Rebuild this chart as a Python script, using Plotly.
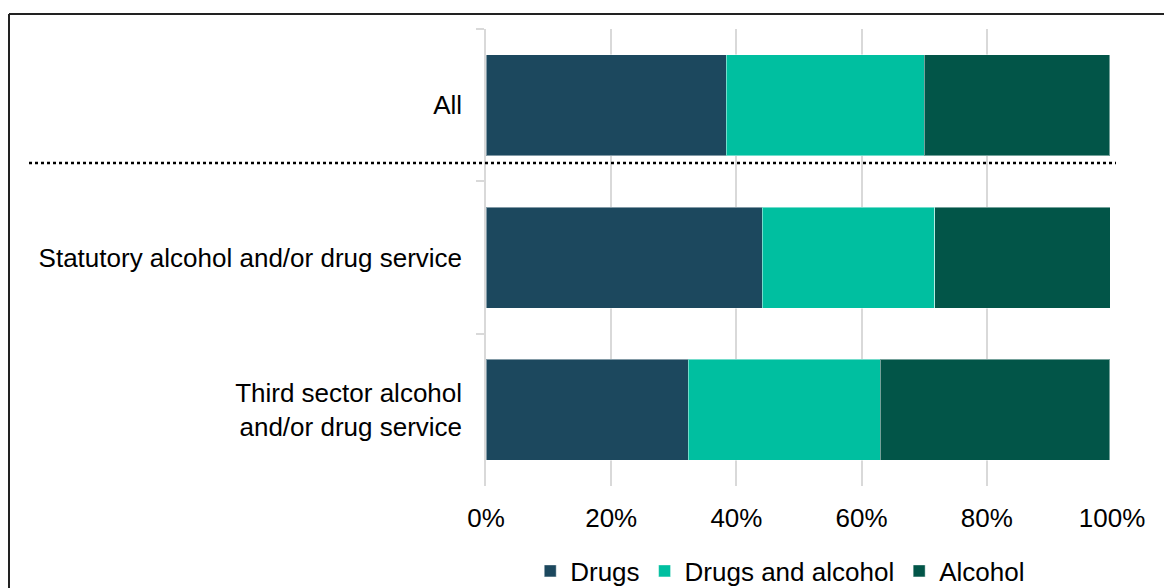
import plotly.graph_objects as go

# Share of clients by substance, per service type (percent)
services = ["All", "Statutory alcohol and/or drug service",
            "Third sector alcohol<br>and/or drug service"]
drugs = [38.4, 44.1, 32.3]
drugs_and_alcohol = [31.6, 27.6, 30.7]
alcohol = [29.6, 28.0, 36.6]

series_names = ["Drugs", "Drugs and alcohol", "Alcohol"]
series_colors = ["#1c485e", "#00bfa0", "#025548"]
x_ticks = [0, 20, 40, 60, 80, 100]
x_tick_labels = ["0%", "20%", "40%", "60%", "80%", "100%"]

W, H = 1164, 588
ML, MR, MT, MB = 486, 52, 29, 102
PW, PH = W - ML - MR, H - MT - MB

font = "Liberation Sans, Arial, sans-serif"
FS = 26

fig = go.Figure()
for name, vals, col in zip(series_names, [drugs, drugs_and_alcohol, alcohol], series_colors):
    fig.add_trace(go.Bar(
        y=services, x=vals, name=name, orientation="h",
        marker=dict(color=col, line=dict(color="rgba(255,255,255,0.45)", width=1)),
    ))


def px_x(px):
    return (px - ML) / PW


def px_y(py):
    return (H - MB - py) / PH


shapes = [
    # dotted separator under the overall row
    dict(type="line", xref="paper", yref="paper",
         x0=px_x(29), x1=px_x(1116), y0=px_y(163), y1=px_y(163),
         line=dict(color="black", width=2.5, dash="dot")),
    # frame edges
    dict(type="line", xref="paper", yref="paper",
         x0=px_x(9), x1=px_x(1170), y0=px_y(14), y1=px_y(14),
         line=dict(color="#222222", width=2)),
    dict(type="line", xref="paper", yref="paper",
         x0=px_x(9), x1=px_x(9), y0=px_y(14), y1=px_y(600),
         line=dict(color="#222222", width=2)),
]

fig.update_layout(
    width=W, height=H,
    margin=dict(l=ML, r=MR, t=MT, b=MB, autoexpand=False),
    barmode="stack", bargap=0.337,
    paper_bgcolor="white", plot_bgcolor="white",
    font=dict(family=font, size=FS, color="black"),
    showlegend=True,
    legend=dict(orientation="h", x=0.47, xanchor="center", y=px_y(571), yanchor="middle",
                font=dict(size=FS, color="black"), traceorder="normal",
                itemwidth=30, tracegroupgap=0),
    shapes=shapes,
    xaxis=dict(range=[0, 100], tickvals=x_ticks, ticktext=x_tick_labels,
               showgrid=True, gridcolor="#d9d9d9", gridwidth=1.5,
               zeroline=False, showline=False, ticks="", ticklabelstandoff=14,
               tickfont=dict(size=FS, color="black")),
    yaxis=dict(autorange="reversed", type="category",
               showline=True, linecolor="#d9d9d9", linewidth=1.5,
               ticks="outside", tickson="boundaries", ticklen=8, tickcolor="#d9d9d9",
               tickwidth=1.5, ticklabelstandoff=17,
               tickfont=dict(size=FS, color="black")),
)

fig.write_html("out.html")
